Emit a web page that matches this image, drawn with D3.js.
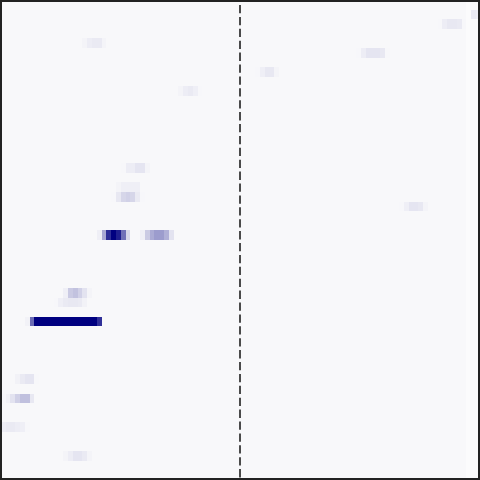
<!DOCTYPE html>
<html>
<head>
<meta charset="utf-8">
<script src="https://cdn.jsdelivr.net/npm/d3@7"></script>
<style>
  html, body { margin: 0; padding: 0; background: #ffffff; }
  svg { display: block; }
</style>
</head>
<body>
<div id="chart"></div>
<script>
// ---- data ----
const nCols = 100;
const nRows = 50;
const baseValue = 0.015;          // background intensity
const edgeCols = [97, 98, 99];    // slightly lower background on far-right columns
const edgeBaseValue = 0.004;
// sparse patches: row index, starting column, consecutive intensities (0..1)
const patchRows   = [1, 2, 4, 5, 7, 9, 17, 19, 20, 21, 24, 30, 31, 33, 39, 41, 44, 47];
const patchStarts = [98, 91, 17, 74, 53, 37, 25, 24, 23, 83, 20, 13, 11, 5, 3, 0, 0, 13];
const patchValues = [
  [0.07, 0.06],
  [0.02, 0.06, 0.08, 0.08, 0.07, 0.02],
  [0.03, 0.06, 0.07, 0.07, 0.03],
  [0.02, 0.06, 0.09, 0.09, 0.09, 0.08, 0.02],
  [0.02, 0.05, 0.08, 0.08, 0.03],
  [0.03, 0.06, 0.07, 0.05, 0.02],
  [0.02, 0.06, 0.06, 0.09, 0.09, 0.03],
  [0.03, 0.05, 0.05, 0.05, 0.05],
  [0.02, 0.08, 0.15, 0.17, 0.15, 0.07, 0.02],
  [0.02, 0.05, 0.09, 0.09, 0.08, 0.03],
  [0.05, 0.33, 0.82, 1.0, 0.88, 0.56, 0.15, 0.015, 0.015, 0.05, 0.2, 0.32, 0.38, 0.38, 0.3, 0.1],
  [0.05, 0.2, 0.23, 0.17, 0.1, 0.03],
  [0.02, 0.05, 0.07, 0.08, 0.08, 0.07, 0.04],
  [0.04, 0.57, 1, 1, 1, 1, 1, 1, 1, 1, 1, 1, 1, 1, 1, 0.81],
  [0.04, 0.07, 0.09, 0.09, 0.02],
  [0.02, 0.04, 0.1, 0.17, 0.24, 0.24, 0.08],
  [0.06, 0.07, 0.07, 0.06, 0.05, 0.02],
  [0.03, 0.06, 0.09, 0.09, 0.07, 0.03]
];
const markerCol = 50; // dashed vertical line position (column boundary)

// ---- build matrix ----
const cells = [];
for (let r = 0; r < nRows; r++) {
  for (let c = 0; c < nCols; c++) {
    cells.push({ r, c, v: edgeCols.includes(c) ? edgeBaseValue : baseValue });
  }
}
patchRows.forEach((r, i) => {
  patchValues[i].forEach((v, k) => {
    cells[r * nCols + patchStarts[i] + k].v = v;
  });
});

// ---- draw ----
const W = 480, H = 480;
const svg = d3.select("#chart").append("svg").attr("width", W).attr("height", H);

const x = d3.scaleBand().domain(d3.range(nCols)).range([0.8, W + 0.8]).paddingInner(0).paddingOuter(0);
const y = d3.scaleBand().domain(d3.range(nRows)).range([0, H]).paddingInner(0).paddingOuter(0);
const color = d3.scaleLinear().domain([0, 1]).range(["#fcfcfc", "#000080"]).interpolate(d3.interpolateRgb);

svg.append("g")
  .attr("shape-rendering", "crispEdges")
  .selectAll("rect")
  .data(cells)
  .join("rect")
  .attr("x", d => x(d.c))
  .attr("y", d => y(d.r))
  .attr("width", x.bandwidth() + 0.05)
  .attr("height", y.bandwidth() + 0.05)
  .attr("fill", d => color(d.v));

const xm = d3.scaleLinear().domain([0, nCols]).range([0, W]);
svg.append("line")
  .attr("x1", xm(markerCol)).attr("x2", xm(markerCol))
  .attr("y1", 0).attr("y2", H)
  .attr("stroke", "#111")
  .attr("stroke-width", 1.5)
  .attr("stroke-dasharray", "8.3,3.6")
  .attr("stroke-dashoffset", 6.9);

svg.append("rect")
  .attr("x", 1).attr("y", 1)
  .attr("width", W - 2).attr("height", H - 2)
  .attr("fill", "none")
  .attr("stroke", "#222")
  .attr("stroke-width", 2);
</script>
</body>
</html>
